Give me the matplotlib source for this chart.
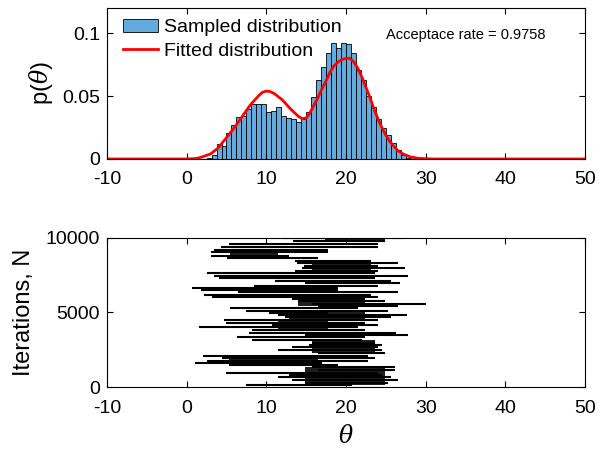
"""MCMC sampling figure: histogram + fitted pdf, and the chain trace."""

import matplotlib

matplotlib.use("Agg")
import matplotlib.pyplot as plt
import numpy as np

# histogram of sampled theta (pdf-normalised), bins of width 0.625 from 2.5
BIN_START = 2.5
BIN_WIDTH = 0.625
HIST_P = [
    0.001, 0.003, 0.012, 0.010, 0.021, 0.027, 0.033, 0.034, 0.040, 0.044, 0.044, 0.044,
    0.037, 0.038, 0.041, 0.034, 0.0325, 0.032, 0.029, 0.032, 0.037, 0.049, 0.063, 0.073,
    0.084, 0.092, 0.088, 0.092,
    0.091, 0.084, 0.071, 0.063, 0.050, 0.041, 0.032, 0.025, 0.019, 0.013, 0.007, 0.003, 0.001,
]

# fitted distribution
FIT_THETA = [
    -10, 0, 1, 1.5, 2, 3, 4, 5, 6, 7, 8, 9, 9.5, 10, 10.5, 11, 12, 13, 14, 14.5,
    15, 15.5, 16, 16.5, 17, 17.5, 18, 18.5, 19, 19.5, 20, 20.5, 21, 21.5, 22, 22.5,
    23, 23.5, 24, 24.5, 25, 25.5, 26, 26.5, 27, 28, 29, 30, 31, 50,
]
FIT_P = [
    0, 0, 0.0003, 0.0008, 0.0018, 0.004, 0.009, 0.017, 0.025, 0.034, 0.043, 0.050,
    0.053, 0.054, 0.0535, 0.052, 0.047, 0.040, 0.034, 0.032, 0.0325, 0.037, 0.043,
    0.049, 0.056, 0.062, 0.069, 0.074, 0.077, 0.079, 0.080, 0.080, 0.077, 0.072,
    0.065, 0.057, 0.049, 0.040, 0.032, 0.025, 0.019, 0.014, 0.010, 0.0068, 0.0045,
    0.0018, 0.0006, 0.0002, 0, 0,
]

ACCEPT_RATE = 0.9758

# chain trace: per band of iterations, leftmost / rightmost theta visited
TRACE_ITER = [
    134, 291, 470, 649, 805, 962, 1141, 1320, 1476, 1633,
    1767, 1924, 2080, 2304, 2483, 2662, 2819, 2975, 3154, 3333,
    3490, 3646, 3825, 4004, 4161, 4317, 4496, 4675, 4832, 4944,
    5123, 5302, 5458, 5570, 5749, 5906, 6062, 6196, 6353, 6510,
    6644, 6800, 6957, 7136, 7315, 7471, 7628, 7807, 7986, 8143,
    8299, 8478, 8657, 8814, 9038, 9194, 9373, 9597, 9820, 9980,
]
TRACE_LO = [
    7.4, 14.9, 13.2, 11.5, 12.8, 4.9, 16.5, 15.7, 5.3, 1.1,
    2.6, 4.5, 2.0, 16.5, 11.5, 13.2, 15.3, 15.7, 8.2, 6.3,
    14.9, 7.8, 8.2, 1.5, 10.7, 4.9, 4.7, 12.4, 11.5, 10.3,
    7.4, 5.5, 16.5, 15.7, 14.0, 13.2, 3.2, 2.2, 6.5, 1.8,
    0.7, 8.4, 14.9, 11.1, 4.0, 3.4, 2.6, 13.6, 14.5, 14.7,
    13.8, 13.6, 5.1, 3.0, 3.0, 3.4, 4.3, 5.3, 13.4, 12.0,
]
TRACE_HI = [
    20.7, 25.3, 26.5, 25.7, 24.5, 24.0, 26.1, 26.1, 19.0, 17.0,
    22.8, 23.6, 22.8, 24.9, 24.5, 24.0, 24.5, 23.6, 22.0, 22.4,
    27.8, 26.3, 22.4, 21.5, 24.0, 22.4, 24.0, 25.7, 27.6, 17.8,
    25.3, 21.5, 26.5, 30.1, 24.9, 22.4, 24.0, 23.2, 26.5, 19.0,
    19.0, 24.0, 26.8, 25.7, 23.6, 27.8, 23.6, 24.0, 27.4, 24.0,
    26.5, 23.2, 16.5, 12.8, 17.8, 17.8, 24.0, 24.0, 24.9, 27.2,
]

# stretches where the chain lingered (solid black in the trace)
DENSE_ITER_LO = [134, 1588, 2259, 3825, 4496, 5458, 6465, 6912, 7762, 8702, 9708]
DENSE_ITER_HI = [1364, 2035, 3154, 4496, 5167, 6018, 6689, 7136, 8523, 9194, 9999]
DENSE_LO = [14.9, 5.3, 15.7, 11.5, 12.8, 14.0, 6.5, 14.9, 15.7, 5.5, 17.4]
DENSE_HI = [24.9, 16.5, 23.6, 17.8, 22.4, 22.4, 12.8, 22.4, 23.2, 11.5, 24.9]

COL = {
    "bar": "#62abdc",
    "red": "#ff0000",
    "dark": "#000000",
}

plt.rcParams.update(
    {
        "font.family": ["Liberation Sans", "DejaVu Sans"],
        "mathtext.fontset": "dejavuserif",
        "font.size": 14,
        "axes.unicode_minus": False,
        "axes.linewidth": 0.8,
        "xtick.direction": "in",
        "ytick.direction": "in",
        "xtick.top": True,
        "ytick.right": True,
        "xtick.major.size": 4,
        "ytick.major.size": 4,
        "xtick.major.pad": 9,
        "ytick.major.pad": 5,
    },
)


def hist_panel(ax):
    edges = BIN_START + BIN_WIDTH * np.arange(len(HIST_P))
    bars = ax.bar(
        edges,
        HIST_P,
        width=BIN_WIDTH,
        align="edge",
        color=COL["bar"],
        edgecolor=COL["dark"],
        linewidth=0.6,
    )
    (fit,) = ax.plot(FIT_THETA, FIT_P, color=COL["red"], linewidth=2.0)
    ax.set_xlim(-10, 50)
    ax.set_ylim(0, 0.12)
    ax.set_xticks(range(-10, 51, 10))
    ax.set_yticks([0, 0.05, 0.1])
    ax.set_yticklabels(["0", "0.05", "0.1"])
    ax.set_ylabel(r"p($\theta$)", fontsize=17, labelpad=5)
    ax.text(25.0, 0.0985, f"Acceptace rate = {ACCEPT_RATE}", fontsize=10.5, va="center")
    ax.legend(
        [bars, fit],
        ["Sampled distribution", "Fitted distribution"],
        loc="upper left",
        bbox_to_anchor=(0.033, 0.93),
        frameon=False,
        fontsize=14,
        handlelength=1.8,
        handletextpad=0.3,
        labelspacing=0.3,
        borderaxespad=0.0,
        borderpad=0.0,
    )


def trace_panel(ax):
    lo = np.array(DENSE_LO)
    hi = np.array(DENSE_HI)
    ilo = np.array(DENSE_ITER_LO)
    ihi = np.array(DENSE_ITER_HI)
    ax.barh(ilo, hi - lo, height=ihi - ilo, left=lo, align="edge",
            color=COL["dark"], alpha=0.88, linewidth=0)
    ax.hlines(TRACE_ITER, TRACE_LO, TRACE_HI, color=COL["dark"], linewidth=1.5)
    ax.set_xlim(-10, 50)
    ax.set_ylim(0, 10000)
    ax.set_xticks(range(-10, 51, 10))
    ax.set_yticks([0, 5000, 10000])
    ax.set_ylabel("Iterations, N", fontsize=17, labelpad=8)
    ax.set_xlabel(r"$\theta$", fontsize=17, labelpad=6)


def main():
    fig = plt.figure(figsize=(5.99, 4.51), dpi=100)
    ax1 = fig.add_axes([0.1786, 0.6475, 0.798, 0.3348])
    ax2 = fig.add_axes([0.1786, 0.1419, 0.798, 0.3304])
    hist_panel(ax1)
    trace_panel(ax2)
    fig.savefig("out.png", dpi=100)
    plt.close(fig)


if __name__ == "__main__":
    main()
